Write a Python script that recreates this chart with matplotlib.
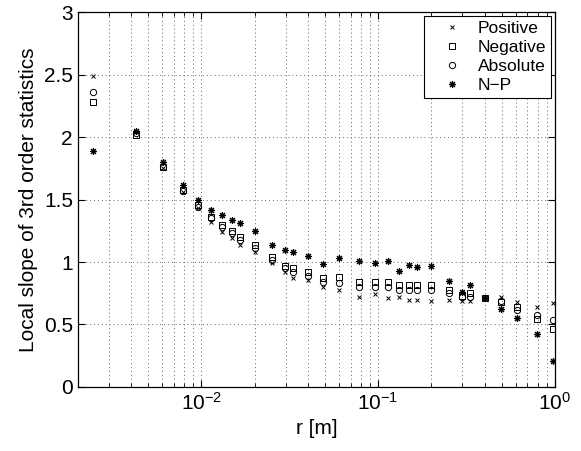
import matplotlib
matplotlib.use("Agg")
import matplotlib.pyplot as plt
from matplotlib.ticker import LogLocator, MultipleLocator, FormatStrFormatter, NullFormatter

plt.rcParams["font.family"] = ["Liberation Sans", "DejaVu Sans"]
plt.rcParams["mathtext.fontset"] = "custom"
plt.rcParams["mathtext.rm"] = "Liberation Sans"
plt.rcParams["mathtext.it"] = "Liberation Sans:italic"
plt.rcParams["mathtext.bf"] = "Liberation Sans:bold"

# separation r [m]
r = [0.00244, 0.00426, 0.00603, 0.00783, 0.00953, 0.0113, 0.0130, 0.0149,
     0.0166, 0.0200, 0.0252, 0.0297, 0.0331, 0.0399, 0.0489, 0.0603, 0.0783,
     0.0962, 0.113, 0.1316, 0.149, 0.167, 0.200, 0.252, 0.299, 0.333, 0.400,
     0.493, 0.608, 0.790, 0.970]

positive = [2.49, 2.04, 1.75, 1.56, 1.43, 1.32, 1.24, 1.19, 1.14, 1.08, 0.99,
            0.92, 0.875, 0.856, 0.80, 0.776, 0.723, 0.741, 0.715, 0.717, 0.696,
            0.70, 0.688, 0.70, 0.69, 0.69, 0.715, 0.723, 0.68, 0.638, 0.67]

negative = [2.28, 2.02, 1.76, 1.58, 1.456, 1.36, 1.30, 1.248, 1.20, 1.136,
            1.043, 0.968, 0.95, 0.922, 0.87, 0.877, 0.843, 0.843, 0.843, 0.816,
            0.816, 0.816, 0.816, 0.776, 0.728, 0.755, 0.715, 0.68, 0.64, 0.54,
            0.46]

absolute = [2.36, 2.03, 1.76, 1.57, 1.44, 1.35, 1.28, 1.23, 1.176, 1.11,
            1.016, 0.95, 0.922, 0.888, 0.843, 0.835, 0.80, 0.80, 0.80, 0.776,
            0.776, 0.776, 0.776, 0.75, 0.717, 0.723, 0.715, 0.69, 0.616, 0.576,
            0.536]

n_minus_p = [1.89, 2.05, 1.80, 1.62, 1.50, 1.42, 1.376, 1.336, 1.31, 1.248,
             1.136, 1.10, 1.083, 1.048, 0.984, 1.03, 1.01, 0.99, 1.008, 0.93,
             0.973, 0.963, 0.968, 0.848, 0.757, 0.82, 0.715, 0.624, 0.55, 0.424,
             0.21]

fig = plt.figure(figsize=(5.81, 4.51), dpi=100)
ax = fig.add_axes([0.134, 0.142, 0.821, 0.831])

asterisk = (8, 2, 0)
ax.plot(r, positive, linestyle="none", marker="x", ms=3.5, mew=0.7, color="k", label="Positive")
ax.plot(r, negative, linestyle="none", marker="s", ms=4, mew=0.7, mfc="none", color="k", label="Negative")
ax.plot(r, absolute, linestyle="none", marker="o", ms=4.5, mew=0.7, mfc="none", color="k", label="Absolute")
ax.plot(r, n_minus_p, linestyle="none", marker=asterisk, ms=5, mew=0.8, color="k", label="N\u2212P")

ax.set_xscale("log")
ax.set_xlim(0.002, 1)
ax.set_ylim(0, 3)
ax.yaxis.set_major_locator(MultipleLocator(0.5))
ax.yaxis.set_major_formatter(FormatStrFormatter("%g"))
ax.xaxis.set_major_locator(LogLocator(base=10, numticks=10))
ax.xaxis.set_minor_locator(LogLocator(base=10, subs=range(2, 10), numticks=20))
ax.xaxis.set_minor_formatter(NullFormatter())

dots = (0, (1, 3))
ax.grid(True, which="major", linestyle=dots, color="0.4", linewidth=0.7)
ax.grid(True, which="minor", axis="x", linestyle=dots, color="0.4", linewidth=0.7)

ax.tick_params(which="both", direction="in", top=True, right=True, labelsize=15)
ax.tick_params(which="major", length=5, width=0.8)
ax.tick_params(which="minor", length=3, width=0.6)
for s in ax.spines.values():
    s.set_linewidth(0.9)

ax.set_xlabel("r [m]", fontsize=15)
ax.set_ylabel("Local slope of 3rd order statistics", fontsize=15)

leg = ax.legend(loc="upper right", fontsize=12.5, frameon=True, fancybox=False,
                edgecolor="k", borderaxespad=0.2, handlelength=2.6,
                handletextpad=0.2, labelspacing=0.22, borderpad=0.3,
                framealpha=1)
leg.get_frame().set_linewidth(0.8)

fig.savefig("out.png", dpi=100, facecolor="white")
